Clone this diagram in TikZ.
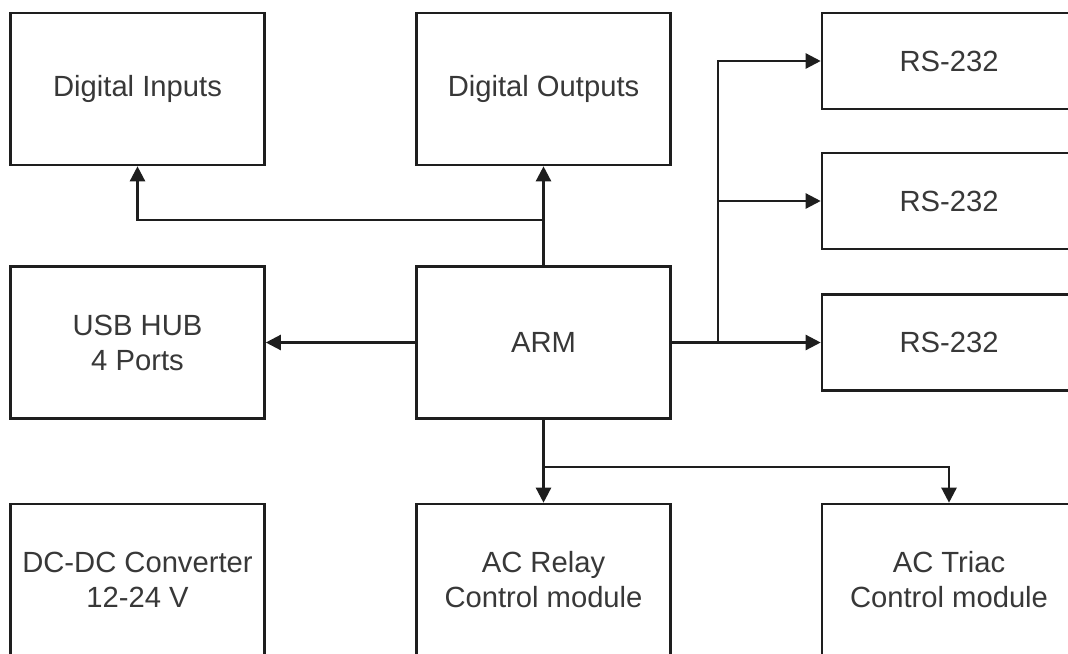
\documentclass[tikz,border=0pt]{standalone}
\usepackage{fontspec}
\setmainfont{Liberation Sans}
\usetikzlibrary{arrows.meta}
\definecolor{edge}{HTML}{1E1E1E}
\definecolor{label}{HTML}{383838}
\begin{document}
\begin{tikzpicture}[x=0.5pt,y=-0.5pt,
  block/.style={draw=edge, line width=1.3pt, fill=white, inner sep=0pt,
    minimum width=127pt, minimum height=76pt, align=center,
    text=label, font=\fontsize{14.6pt}{17.5pt}\selectfont},
  slim/.style={block, minimum height=48pt},
  link/.style={draw=edge, line width=1.2pt},
  arr/.style={link, -{Triangle[length=7.5pt,width=7.5pt]}}]
\useasboundingbox (0,0) rectangle (1068,653);
\begin{scope}
\clip (0,0) rectangle (1068,653);
% top row
\node[block] (din)  at (137.5,89) {Digital Inputs};
\node[block] (dout) at (543.5,89) {Digital Outputs};
% serial ports
\node[slim] (rs1) at (949,61)  {RS-232};
\node[slim] (rs2) at (949,201) {RS-232};
\node[slim] (rs3) at (949,342.5) {RS-232};
% middle row
\node[block] (usb) at (137.5,342.5) {USB HUB\\4 Ports};
\node[block] (arm) at (543.5,342.5) {ARM};
% bottom row
\node[block] (dc)    at (137.5,580) {DC-DC Converter\\12-24 V};
\node[block] (relay) at (543.5,580) {AC Relay\\Control module};
\node[block] (triac) at (949,580)   {AC Triac\\Control module};
% junction points
\coordinate (jin) at (543.5,220);
\coordinate (jrs) at (718,342.5);
\coordinate (jac) at (543.5,467);
% connectors
\draw[arr] (arm.north) -- (dout.south);
\draw[arr] (jin) -| (din.south);
\draw[arr] (arm.west) -- (usb.east);
\draw[link] (arm.east) -- (jrs);
\draw[arr] (jrs) |- (rs1.west);
\draw[arr] (jrs |- rs2.west) -- (rs2.west);
\draw[arr] (jrs) -- (rs3.west);
\draw[arr] (arm.south) -- (relay.north);
\draw[arr] (jac) -| (triac.north);
\end{scope}
\end{tikzpicture}
\end{document}
